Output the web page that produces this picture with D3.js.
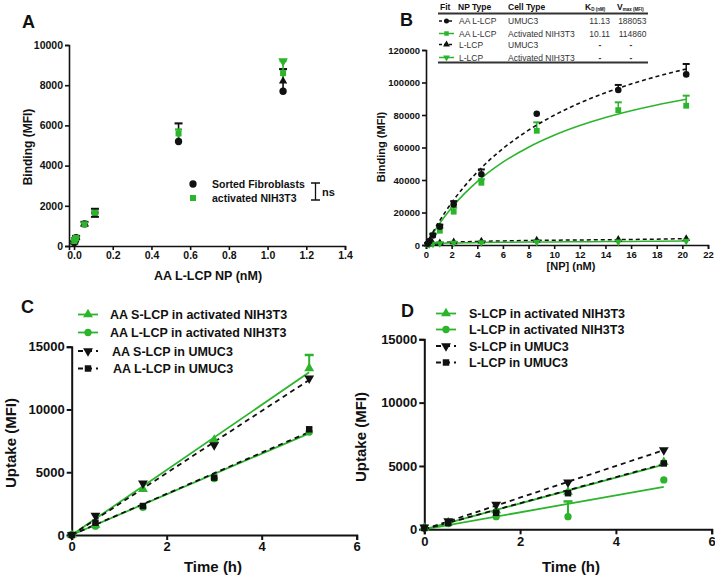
<!DOCTYPE html>
<html><head><meta charset="utf-8">
<script src="https://cdn.jsdelivr.net/npm/d3@7"></script>
<style>
body{margin:0;background:#fff;}
svg{display:block;font-family:"Liberation Sans",Arial,sans-serif;}
</style></head>
<body><svg id="c" width="715" height="579"></svg>
<script>
// ---------- DATA ----------
const GREEN = "#2cb52c";
// Panel A
const A_xTicks = [0, 0.2, 0.4, 0.6, 0.8, 1.0, 1.2, 1.4];
const A_yTicks = [0, 2000, 4000, 6000, 8000, 10000];
const A_conc = [0.0011, 0.0054, 0.0108, 0.054, 0.108, 0.54, 1.08];
const A_fib   = [180, 300, 420, 1100, 1650, 5200, 7700];
const A_fibLo = [120, 220, 330, 1000, 1450, 5200, 7700];
const A_fibHi = [250, 380, 500, 1200, 1850, 6100, 8800];
const A_nih   = [250, 330, 400, 1080, 1650, 5600, 8600];
const A_nihLo = [200, 280, 350, 1000, 1550, 5400, 8400];
const A_nihHi = [300, 400, 450, 1150, 1750, 5800, 9200];
const A_legend = ["Sorted Fibroblasts", "activated NIH3T3"];

// Panel B
const B_xTicks = [0, 2, 4, 6, 8, 10, 12, 14, 16, 18, 20, 22];
const B_yTicks = [0, 20000, 40000, 60000, 80000, 100000, 120000];
const B_conc = [0.135, 0.27, 0.54, 1.08, 2.16, 4.32, 8.64, 15, 20.3];
const B_aaUmuc   = [800, 2500, 5800, 11300, 25000, 43500, 80800, 95400, 105000];
const B_aaUmucHi = [1200, 3200, 6800, 12500, 27000, 46500, 80800, 98500, 111400];
const B_aaNih    = [700, 2000, 6100, 8800, 20500, 38300, 70300, 83000, 85700];
const B_aaNihHi  = [1000, 2600, 7000, 10500, 23000, 40500, 75500, 87800, 91900];
const B_lUmuc = [300, 600, 900, 1300, 1800, 2300, 2900, 3400, 3900];
const B_lNih  = [200, 400, 700, 1000, 1300, 1500, 1800, 2000, 2400];
const B_fitX = [0, 0.5, 1, 2, 3, 4, 6, 8, 10, 12, 14, 16, 18, 20.3];
const B_fitAaUmuc = [0, 7360, 14090, 25970, 36130, 44900, 59320, 70660, 79820, 87360, 93690, 99070, 103700, 108300];
const B_fitAaNih  = [0, 6580, 12540, 22900, 31600, 39020, 50970, 60200, 67530, 73500, 78450, 82620, 86190, 89700];
const B_fitLUmuc  = [0, 800, 1300, 1800, 2000, 2200, 2500, 2800, 2950, 3100, 3250, 3400, 3600, 3900];
const B_fitLNih   = [0, 500, 900, 1200, 1350, 1500, 1650, 1800, 1900, 2000, 2100, 2200, 2300, 2400];
const B_header = ["Fit", "NP Type", "Cell Type"];
const B_npType = ["AA L-LCP", "AA L-LCP", "L-LCP", "L-LCP"];
const B_cellType = ["UMUC3", "Activated NIH3T3", "UMUC3", "Activated NIH3T3"];
const B_kd = ["11.13", "10.11", "-", "-"];
const B_vmax = ["188053", "114860", "-", "-"];

// Panel C / D
const CD_xTicks = [0, 2, 4, 6];
const CD_yTicks = [0, 5000, 10000, 15000];
const CD_time = [0, 0.5, 1.5, 3, 5];
const CD_fitT = [0, 5];
const C_labels = ["AA S-LCP in activated NIH3T3", "AA L-LCP in activated NIH3T3", "AA S-LCP in UMUC3", "AA L-LCP in UMUC3"];
const C_sNih = [0, 800, 3660, 7570, 13280];
const C_sNihHi = [0, 800, 3660, 7570, 14340];
const C_lNih = [0, 700, 2200, 4500, 8200];
const C_sUmuc = [0, 1540, 4120, 7170, 12480];
const C_lUmuc = [0, 980, 2310, 4570, 8420];
const C_fitSNih = [0, 12960];
const C_fitLNih = [0, 8100];
const C_fitSUmuc = [0, 12350];
const C_fitLUmuc = [0, 8200];
const D_labels = ["S-LCP in activated NIH3T3", "L-LCP in activated NIH3T3", "S-LCP in UMUC3", "L-LCP in UMUC3"];
const D_sNih = [100, 550, 1500, 2950, 5300];
const D_lNih = [100, 450, 1000, 1000, 3900];
const D_lNihHi = [100, 450, 1000, 2200, 3900];
const D_sUmuc = [150, 650, 1950, 3700, 6250];
const D_lUmuc = [100, 500, 1300, 2850, 5200];
const D_fitSNih = [0, 5100];
const D_fitLNih = [0, 3350];
const D_fitSUmuc = [0, 6250];
const D_fitLUmuc = [0, 5150];

// ---------- HELPERS ----------
const svg = d3.select("#c");
svg.append("rect").attr("width", 715).attr("height", 579).attr("fill", "#fff");

function triPath(ctx, size, dir) {
  const s = Math.sqrt(size / 0.433);           // side length
  const r = s / Math.sqrt(3);                  // circumradius
  ctx.moveTo(0, -dir * r); ctx.lineTo(s / 2, dir * r / 2); ctx.lineTo(-s / 2, dir * r / 2); ctx.closePath();
}
const upTri = { draw(ctx, size) { triPath(ctx, size, 1); } };
const downTri = { draw(ctx, size) { triPath(ctx, size, -1); } };

function axes(g, x, y, xTicks, yTicks, xFmt, yFmt, fs, tl, sw) {
  const ax = g.append("g").attr("transform", `translate(0,${y.range()[0]})`)
    .call(d3.axisBottom(x).tickValues(xTicks).tickFormat(xFmt).tickSizeOuter(0).tickSize(tl).tickPadding(2));
  const ay = g.append("g").attr("transform", `translate(${x.range()[0]},0)`)
    .call(d3.axisLeft(y).tickValues(yTicks).tickFormat(yFmt).tickSizeOuter(0).tickSize(tl).tickPadding(2));
  [ax, ay].forEach(a => {
    a.select(".domain").attr("stroke", "#111").attr("stroke-width", sw);
    a.selectAll(".tick line").attr("stroke", "#111").attr("stroke-width", sw);
    a.selectAll("text").attr("fill", "#111").attr("font-size", fs).attr("font-weight", "bold")
      .attr("font-family", '"Liberation Sans",Arial,sans-serif');
  });
  return { ax, ay };
}
function errBars(g, x, y, xs, lo, hi, color, cap, sw) {
  xs.forEach((xv, i) => {
    if (hi[i] === lo[i]) return;
    g.append("line").attr("x1", x(xv)).attr("x2", x(xv)).attr("y1", y(lo[i])).attr("y2", y(hi[i]))
      .attr("stroke", color).attr("stroke-width", sw);
    g.append("line").attr("x1", x(xv) - cap).attr("x2", x(xv) + cap).attr("y1", y(hi[i])).attr("y2", y(hi[i]))
      .attr("stroke", color).attr("stroke-width", sw + 0.5);
  });
}
function points(g, x, y, xs, ys, type, size, color) {
  g.selectAll(null).data(xs).enter().append("path")
    .attr("transform", (d, i) => `translate(${x(d)},${y(ys[i])})`)
    .attr("d", d3.symbol().type(type).size(size)).attr("fill", color);
}
function fitLine(g, x, y, xs, ys, color, dash, sw) {
  g.append("path").datum(xs).attr("fill", "none").attr("stroke", color).attr("stroke-width", sw)
    .attr("stroke-dasharray", dash || null)
    .attr("d", d3.line().x(d => x(d)).y((d, i) => y(ys[i])).curve(d3.curveMonotoneX));
}
function label(txt, x, y, fs, opts = {}) {
  const t = svg.append("text").attr("x", x).attr("y", y).text(txt).attr("font-size", fs)
    .attr("font-weight", opts.weight || "bold").attr("fill", opts.fill || "#111")
    .attr("text-anchor", opts.anchor || "start");
  if (opts.rotate) t.attr("transform", `rotate(-90,${x},${y})`);
  return t;
}

// ---------- PANEL A ----------
{
  const g = svg.append("g");
  const x = d3.scaleLinear().domain([-0.026, 1.4]).range([69, 345]);
  const y = d3.scaleLinear().domain([0, 10000]).range([246, 45]);
  axes(g, x, y, A_xTicks, A_yTicks, d3.format(".1f"), d3.format("d"), 10.5, 4, 1.6);
  errBars(g, x, y, A_conc, A_fibLo, A_fibHi, "#111", 4, 1.6);
  A_conc.forEach((c, i) => { if (A_fibLo[i] < A_fib[i]) g.append("line").attr("x1", x(c) - 4).attr("x2", x(c) + 4)
    .attr("y1", y(A_fibLo[i])).attr("y2", y(A_fibLo[i])).attr("stroke", "#111").attr("stroke-width", 2); });
  points(g, x, y, A_conc, A_fib, d3.symbolCircle, 42, "#111");
  points(g, x, y, [A_conc[6]], [8200], upTri, 30, "#111");
  errBars(g, x, y, A_conc, A_nihLo, A_nihHi, GREEN, 3.5, 1.6);
  points(g, x, y, A_conc, A_nih, d3.symbolSquare, 36, GREEN);
  points(g, x, y, [A_conc[6]], [A_nihHi[6]], downTri, 40, GREEN);
  // legend
  g.append("path").attr("transform", "translate(193,184)").attr("d", d3.symbol().type(d3.symbolCircle).size(42)).attr("fill", "#111");
  g.append("path").attr("transform", "translate(193,198)").attr("d", d3.symbol().type(d3.symbolSquare).size(36)).attr("fill", GREEN);
  label(A_legend[0], 212, 188, 10.5);
  label(A_legend[1], 212, 202, 10.5);
  g.append("path").attr("d", "M311,183H320M315.5,183V200M311,200H320").attr("stroke", "#111").attr("stroke-width", 1.3).attr("fill", "none");
  label("ns", 322, 196, 11);
  label("Binding (MFI)", 32, 147, 12, { anchor: "middle", rotate: true });
  label("AA L-LCP NP (nM)", 208, 280, 12.5, { anchor: "middle" });
  label("A", 22, 28, 18);
}

// ---------- PANEL B ----------
{
  const g = svg.append("g");
  const x = d3.scaleLinear().domain([0, 22]).range([426, 708]);
  const y = d3.scaleLinear().domain([0, 120000]).range([245, 50]);
  axes(g, x, y, B_xTicks, B_yTicks, d3.format("d"), d3.format("d"), 9.5, 4, 1.6);
  fitLine(g, x, y, B_fitX, B_fitLUmuc, "#111", "4,3", 1.5);
  fitLine(g, x, y, B_fitX, B_fitLNih, GREEN, null, 1.5);
  points(g, x, y, B_conc, B_lUmuc, upTri, 26, "#111");
  points(g, x, y, B_conc, B_lNih, downTri, 26, GREEN);
  fitLine(g, x, y, B_fitX, B_fitAaNih, GREEN, null, 1.6);
  errBars(g, x, y, B_conc, B_aaNih, B_aaNihHi, GREEN, 3.5, 1.5);
  points(g, x, y, B_conc, B_aaNih, d3.symbolSquare, 34, GREEN);
  fitLine(g, x, y, B_fitX, B_fitAaUmuc, "#111", "4,3", 1.6);
  errBars(g, x, y, B_conc, B_aaUmuc, B_aaUmucHi, "#111", 3.5, 1.5);
  points(g, x, y, B_conc, B_aaUmuc, d3.symbolCircle, 34, "#111");
  label("Binding (MFI)", 385, 147, 11, { anchor: "middle", rotate: true });
  label("[NP] (nM)", 571, 270, 11, { anchor: "middle" });
  label("B", 400, 26, 18);
  // table legend
  const rows = [24, 36.5, 47.5, 60.5];
  label(B_header[0], 440, 9.5, 8.5);
  label(B_header[1], 458, 9.5, 8.5);
  label(B_header[2], 508, 9.5, 8.5);
  const kd = label("K", 585, 9.5, 8.5); kd.append("tspan").text("D (nM)").attr("font-size", 4.5).attr("dy", 1);
  const vm = label("V", 617, 9.5, 8.5); vm.append("tspan").text("max (MFI)").attr("font-size", 4.5).attr("dy", 1);
  g.append("line").attr("x1", 438).attr("x2", 648).attr("y1", 13.5).attr("y2", 13.5).attr("stroke", "#333").attr("stroke-width", 1.8);
  g.append("line").attr("x1", 438).attr("x2", 648).attr("y1", 62.5).attr("y2", 62.5).attr("stroke", "#333").attr("stroke-width", 1.8);
  const symT = [d3.symbolCircle, d3.symbolSquare, upTri, downTri];
  const symC = ["#111", GREEN, "#111", GREEN];
  const symD = ["3,2", null, "3,2", null];
  rows.forEach((ry, i) => {
    g.append("line").attr("x1", 439).attr("x2", 454).attr("y1", ry - 3).attr("y2", ry - 3)
      .attr("stroke", symC[i]).attr("stroke-width", 1.5).attr("stroke-dasharray", symD[i]);
    g.append("path").attr("transform", `translate(446.5,${ry - 3})`).attr("d", d3.symbol().type(symT[i]).size(20)).attr("fill", symC[i]);
    label(B_npType[i], 459, ry, 8.5, { weight: "normal", fill: "#333" });
    label(B_cellType[i], 508, ry, 8.5, { weight: "normal", fill: "#333" });
    const dashK = B_kd[i] === "-", dashV = B_vmax[i] === "-";
    label(B_kd[i], dashK ? 600 : 610, ry, 8.5, { weight: dashK ? "bold" : "normal", fill: "#333", anchor: dashK ? "middle" : "end" });
    label(B_vmax[i], dashV ? 631 : 646.5, ry, 8.5, { weight: dashV ? "bold" : "normal", fill: "#333", anchor: dashV ? "middle" : "end" });
  });
}

// ---------- PANEL C & D ----------
function uptakePanel(cfg) {
  const g = svg.append("g");
  const x = d3.scaleLinear().domain([0, 6]).range(cfg.xr);
  const y = d3.scaleLinear().domain([0, 15000]).range(cfg.yr);
  axes(g, x, y, CD_xTicks, CD_yTicks, d3.format("d"), d3.format("d"), 13, 5, 2);
  cfg.series.forEach(s => {
    fitLine(g, x, y, CD_fitT, s.fit, s.color, s.dash, 1.8);
  });
  cfg.series.forEach(s => {
    if (s.hi) errBars(g, x, y, CD_time, s.vals, s.hi, s.color, 4.5, 2);
    points(g, x, y, CD_time, s.vals, s.sym, 42, s.color);
  });
  cfg.series.forEach((s, i) => {
    const ly = cfg.legY[i];
    g.append("line").attr("x1", cfg.legX).attr("x2", cfg.legX + 20).attr("y1", ly).attr("y2", ly)
      .attr("stroke", s.color).attr("stroke-width", 1.8).attr("stroke-dasharray", s.dash ? "5,4" : null);
    g.append("path").attr("transform", `translate(${cfg.legX + 10},${ly})`).attr("d", d3.symbol().type(s.sym).size(42)).attr("fill", s.color);
    label(s.name, cfg.legTX[i], ly + 4.5, 12.5);
  });
}
uptakePanel({
  xr: [71.7, 356.7], yr: [535, 346.7], legX: 78, legY: [314.5, 332.5, 351, 368.5],
  legTX: [110, 110, 112, 113],
  series: [
    { name: C_labels[0], vals: C_sNih, hi: C_sNihHi, fit: C_fitSNih, sym: upTri, color: GREEN, dash: null },
    { name: C_labels[1], vals: C_lNih, fit: C_fitLNih, sym: d3.symbolCircle, color: GREEN, dash: null },
    { name: C_labels[2], vals: C_sUmuc, fit: C_fitSUmuc, sym: downTri, color: "#111", dash: "5,4" },
    { name: C_labels[3], vals: C_lUmuc, fit: C_fitLUmuc, sym: d3.symbolSquare, color: "#111", dash: "5,4" }
  ]
});
uptakePanel({
  xr: [424.3, 711.7], yr: [529.3, 339.3], legX: 436, legY: [313.5, 329.5, 346, 362.5],
  legTX: [469, 469, 469, 469],
  series: [
    { name: D_labels[0], vals: D_sNih, fit: D_fitSNih, sym: upTri, color: GREEN, dash: null },
    { name: D_labels[1], vals: D_lNih, hi: D_lNihHi, fit: D_fitLNih, sym: d3.symbolCircle, color: GREEN, dash: null },
    { name: D_labels[2], vals: D_sUmuc, fit: D_fitSUmuc, sym: downTri, color: "#111", dash: "5,4" },
    { name: D_labels[3], vals: D_lUmuc, fit: D_fitLUmuc, sym: d3.symbolSquare, color: "#111", dash: "5,4" }
  ]
});
label("Uptake (MFI)", 16, 443, 15, { anchor: "middle", rotate: true });
label("Time (h)", 213, 572, 15, { anchor: "middle" });
label("Time (h)", 571, 572, 15, { anchor: "middle" });
label("C", 21, 313, 18);
label("D", 401, 317, 18);
label("Uptake (MFI)", 366, 437, 15, { anchor: "middle", rotate: true });
</script></body></html>
